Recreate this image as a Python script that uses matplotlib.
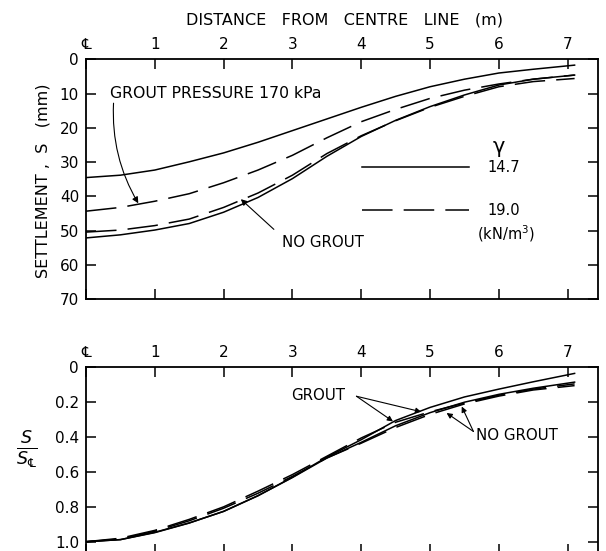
import matplotlib
matplotlib.use('Agg')
import matplotlib.pyplot as plt

plt.rcParams['font.family'] = ['DejaVu Sans']
plt.rcParams['lines.scale_dashes'] = False

# ---------------- data ----------------
distance = [0, 0.5, 1, 1.5, 2, 2.5, 3, 3.5, 4, 4.5, 5, 5.5, 6, 6.5, 7.1]

# settlement S (mm)
s_grout_147 = [34.5, 33.8, 32.3, 29.9, 27.3, 24.2, 20.8, 17.4, 14.0, 10.8, 8.0, 5.8, 4.0, 2.9, 1.7]
s_grout_190 = [44.3, 43.2, 41.4, 39.2, 36.0, 32.3, 28.0, 22.9, 18.2, 14.6, 11.4, 9.0, 7.2, 5.8, 4.6]
s_nogrout_147 = [52.1, 51.2, 49.8, 47.9, 44.6, 40.3, 34.8, 28.3, 22.5, 17.8, 13.8, 10.4, 7.5, 5.8, 4.6]
s_nogrout_190 = [50.4, 49.8, 48.5, 46.6, 43.2, 39.0, 33.8, 27.5, 22.3, 17.9, 14.0, 10.8, 8.0, 6.5, 5.6]

# normalised settlement S / S_CL
n_grout_147 = [1.0, 0.988, 0.946, 0.892, 0.826, 0.736, 0.630, 0.515, 0.415, 0.305, 0.230, 0.170, 0.125, 0.083, 0.035]
n_grout_190 = [1.0, 0.980, 0.935, 0.872, 0.800, 0.710, 0.615, 0.510, 0.405, 0.315, 0.255, 0.205, 0.160, 0.125, 0.095]
n_nogrout_147 = [1.0, 0.988, 0.948, 0.893, 0.826, 0.736, 0.632, 0.520, 0.430, 0.335, 0.260, 0.200, 0.155, 0.120, 0.085]
n_nogrout_190 = [1.0, 0.985, 0.940, 0.880, 0.808, 0.722, 0.625, 0.520, 0.435, 0.345, 0.270, 0.210, 0.165, 0.130, 0.105]

x_ticks = [0, 1, 2, 3, 4, 5, 6, 7]
x_ticklabels = ['\u2104', '1', '2', '3', '4', '5', '6', '7']
s_ticks = [0, 10, 20, 30, 40, 50, 60, 70]
n_ticks = [0, 0.2, 0.4, 0.6, 0.8, 1.0]
n_ticklabels = ['0', '0.2', '0.4', '0.6', '0.8', '1.0']
gamma_labels = ['14.7', '19.0']

# ---------------- figure ----------------
W, H = 606, 551
fig = plt.figure(figsize=(W / 100, H / 100), dpi=100)

solid = '-'
dashed = (0, (22, 8))
lw = 1.1
col = 'black'

def style_axes(ax):
    ax.tick_params(direction='in', top=True, right=True, bottom=True, left=True,
                   labeltop=True, labelbottom=False, length=7, width=1.1,
                   labelsize=11, pad=5, colors='black')
    for sp in ax.spines.values():
        sp.set_linewidth(1.3)
    ax.set_xticks(x_ticks)
    ax.set_xticklabels(x_ticklabels)
    ax.set_xlim(0, 7.44)

# ---- top panel ----
ax1 = fig.add_axes([86 / W, 1 - 299.3 / H, (598 - 86) / W, 240 / H])
l147, = ax1.plot(distance, s_grout_147, color=col, lw=lw, ls=solid, label=gamma_labels[0])
l190, = ax1.plot(distance, s_grout_190, color=col, lw=lw, ls=dashed, label=gamma_labels[1])
ax1.plot(distance, s_nogrout_147, color=col, lw=lw, ls=solid)
ax1.plot(distance, s_nogrout_190, color=col, lw=lw, ls=dashed)
ax1.set_ylim(70, 0)
ax1.set_yticks(s_ticks)
style_axes(ax1)

ax1.text(0.35, 10, 'GROUT PRESSURE 170 kPa', fontsize=11.3, va='center', ha='left')
ax1.annotate('', xy=(0.76, 42.0), xytext=(0.40, 12.8),
             arrowprops=dict(arrowstyle='-|>', lw=0.8, color=col, mutation_scale=9,
                             shrinkA=0, shrinkB=0, connectionstyle='arc3,rad=0.15'))
ax1.text(2.85, 53.5, 'NO GROUT', fontsize=10.8, va='center', ha='left')
ax1.annotate('', xy=(2.25, 40.8), xytext=(2.73, 49.6),
             arrowprops=dict(arrowstyle='-|>', lw=0.8, color=col, mutation_scale=9,
                             shrinkA=0, shrinkB=0))

leg = ax1.legend(handles=[l147, l190], loc='center left', bbox_to_anchor=(0.540, 0.459),
                 frameon=False, handlelength=7.3, handletextpad=1.3, labelspacing=1.95,
                 borderpad=0, borderaxespad=0, fontsize=10.5)
ax1.text(6.0, 25.6, '\u03b3', fontsize=15, ha='center', va='center')
ax1.text(6.1, 50.8, '(kN/m$^3$)', fontsize=10.5, ha='center', va='center')

fig.text(344 / W, 1 - 20 / H, 'DISTANCE   FROM   CENTRE   LINE   (m)', fontsize=11.5,
         ha='center', va='center')
fig.text(43 / W, 1 - 181 / H, 'SETTLEMENT ,  S   (mm)', fontsize=11.5, rotation=90,
         ha='center', va='center')

# ---- bottom panel ----
bottom_px = 553.75
ax2 = fig.add_axes([86 / W, 1 - bottom_px / H, (598 - 86) / W, (bottom_px - 367.3) / H])
ax2.plot(distance, n_grout_147, color=col, lw=lw, ls=solid)
ax2.plot(distance, n_grout_190, color=col, lw=lw, ls=dashed)
ax2.plot(distance, n_nogrout_147, color=col, lw=lw, ls=solid)
ax2.plot(distance, n_nogrout_190, color=col, lw=lw, ls=dashed)
ax2.set_ylim(1.069, 0)
ax2.set_yticks(n_ticks)
ax2.set_yticklabels(n_ticklabels)
style_axes(ax2)

ax2.text(2.98, 0.16, 'GROUT', fontsize=10.8, va='center', ha='left')
for tip in [(4.46, 0.31), (4.87, 0.255)]:
    ax2.annotate('', xy=tip, xytext=(3.93, 0.166),
                 arrowprops=dict(arrowstyle='-|>', lw=0.8, color=col, mutation_scale=8,
                                 shrinkA=0, shrinkB=0))
ax2.text(5.67, 0.393, 'NO GROUT', fontsize=10.8, va='center', ha='left')
for tip in [(5.24, 0.262), (5.46, 0.225)]:
    ax2.annotate('', xy=tip, xytext=(5.63, 0.368),
                 arrowprops=dict(arrowstyle='-|>', lw=0.8, color=col, mutation_scale=8,
                                 shrinkA=0, shrinkB=0))

fig.text(27 / W, 1 - 450 / H, '$\\frac{S}{S_{\u2104}}$',
         fontsize=18, ha='center', va='center')

fig.savefig('out.png', dpi=100)
